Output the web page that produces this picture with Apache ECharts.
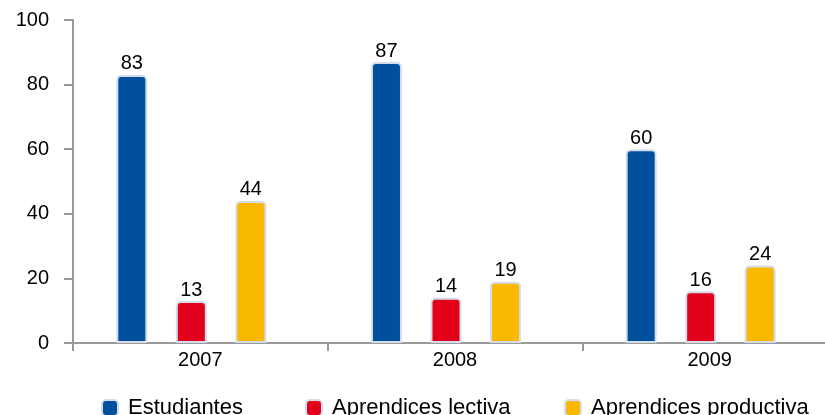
<!DOCTYPE html>
<html><head><meta charset="utf-8">
<script src="https://cdn.jsdelivr.net/npm/echarts@6/dist/echarts.min.js"></script>
<style>html,body{margin:0;padding:0;background:#fff;overflow:hidden}#c{width:850px;height:415px}</style>
</head><body><div id="c"></div>
<script>
const categories = ['2007', '2008', '2009'];
const seriesNames = ['Estudiantes', 'Aprendices lectiva', 'Aprendices productiva'];
const estudiantes = [83, 87, 60];
const aprendicesLectiva = [13, 14, 16];
const aprendicesProductiva = [44, 19, 24];
const yTicks = [0, 20, 40, 60, 80, 100];

const colors = ['#00509E', '#E2001A', '#FBB800'];
const values = [estudiantes, aprendicesLectiva, aprendicesProductiva];
const legendLeft = [101, 305, 564];
const font = 'Liberation Sans, Arial, Helvetica, sans-serif';
const chart = echarts.init(document.getElementById('c'), null, {renderer: 'canvas'});
chart.setOption({
  animation: false,
  textStyle: {fontFamily: font},
  grid: [
    {left: 73, right: 13, top: 20, bottom: 72},
    {left: 64, right: 22, top: 20, bottom: 72}
  ],
  legend: seriesNames.map((name, i) => ({
    left: legendLeft[i], top: 397, padding: 0,
    itemWidth: 16, itemHeight: 16, icon: 'roundRect',
    textStyle: {fontSize: 22, color: '#000', fontFamily: font, padding: [0, 0, 0, 5]},
    data: [name]
  })),
  xAxis: [
    {type: 'category', gridIndex: 0, data: categories,
     axisLine: {lineStyle: {color: '#999', width: 2}},
     axisTick: {show: true, length: 8, lineStyle: {color: '#999', width: 2}},
     axisLabel: {fontSize: 20, color: '#000', margin: 7, fontFamily: font}},
    {type: 'category', gridIndex: 1, data: categories, show: false}
  ],
  yAxis: [
    {type: 'value', gridIndex: 0, min: 0, max: 100, interval: 20,
     axisLine: {show: true, lineStyle: {color: '#999', width: 2}},
     axisTick: {show: true, length: 9, lineStyle: {color: '#999', width: 2}},
     splitLine: {show: false},
     axisLabel: {fontSize: 20, color: '#000', margin: 24, fontFamily: font,
       formatter: v => yTicks.includes(v) ? String(v) : ''}},
    {type: 'value', gridIndex: 1, min: 0, max: 100, interval: 20, show: false, splitLine: {show: false}}
  ],
  series: seriesNames.map((name, i) => ({
    name, type: 'bar', xAxisIndex: 1, yAxisIndex: 1,
    data: values[i], barWidth: 31, barGap: '92%',
    itemStyle: {color: colors[i], borderColor: '#D3DDEC', borderWidth: 2, borderRadius: [4, 4, 0, 0]},
    label: {show: true, position: 'top', distance: 1, fontSize: 20, color: '#000', fontFamily: font}
  }))
});
</script></body></html>
